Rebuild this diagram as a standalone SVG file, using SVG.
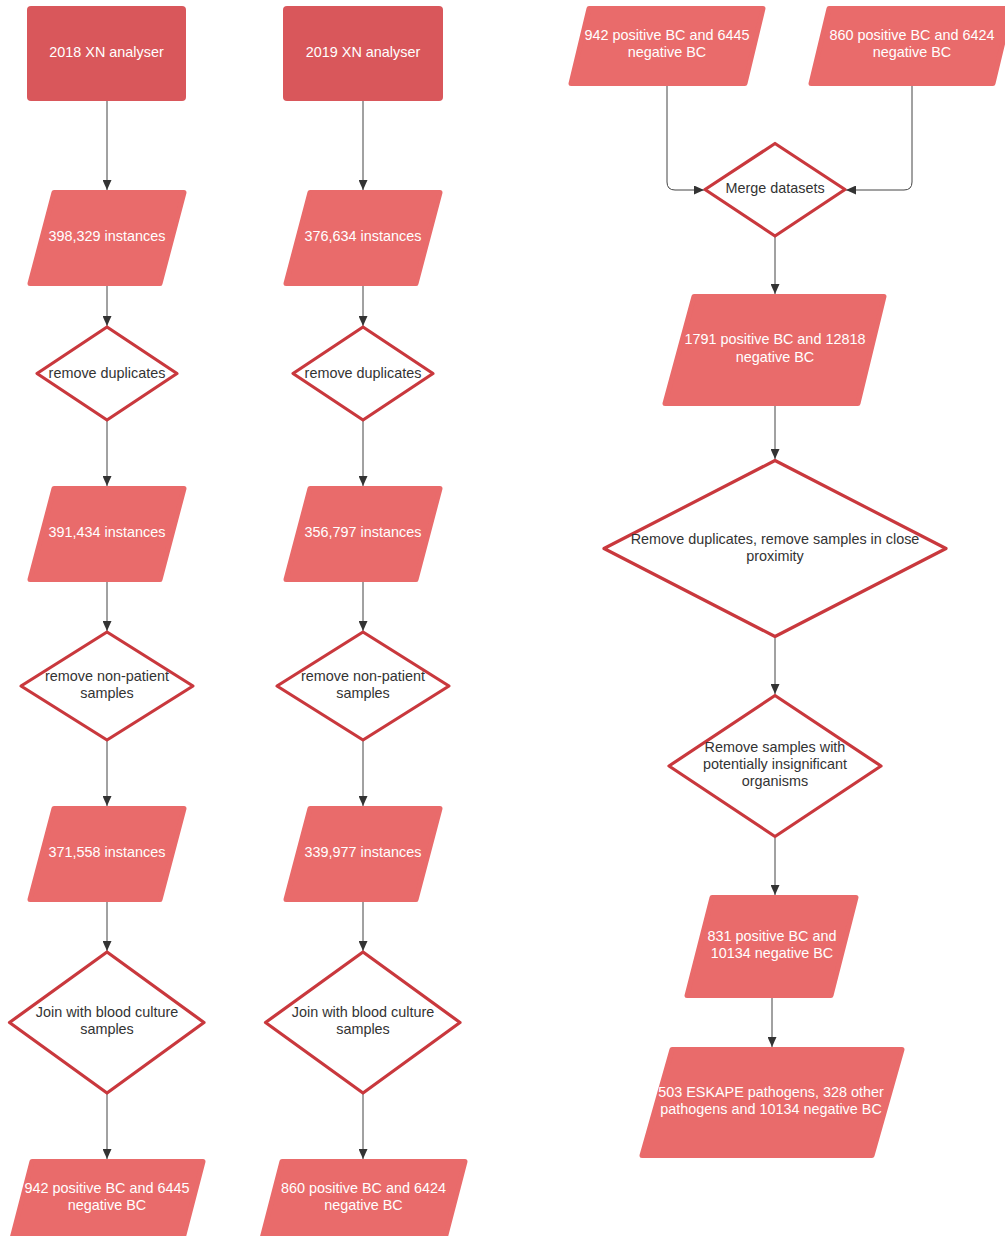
<svg xmlns="http://www.w3.org/2000/svg" width="1005" height="1236" viewBox="0 0 1005 1236">
<style>
.box{fill:#d9575b;}
.para{fill:#e96b6b;stroke:#e96b6b;stroke-width:5;stroke-linejoin:round;}
.dia{fill:#ffffff;stroke:#c9383d;stroke-width:3.2;stroke-linejoin:round;}
.lt{font-family:"Liberation Sans",Arial,sans-serif;font-size:14.4px;fill:#ffffff;text-anchor:middle;}
.dt{font-family:"Liberation Sans",Arial,sans-serif;font-size:14.4px;fill:#333333;text-anchor:middle;}
.conn{fill:none;stroke:#444444;stroke-width:1;}
</style>
<defs>
<marker id="ah" markerUnits="userSpaceOnUse" markerWidth="11" markerHeight="9" refX="10" refY="4.5" orient="auto">
<path d="M0,0 L10,4.5 L0,9 z" fill="#333333"/>
</marker>
</defs>
<rect width="1005" height="1236" fill="#ffffff"/>

<g id="connectors">
<line class="conn" x1="107" y1="101" x2="107" y2="190" marker-end="url(#ah)"/>
<line class="conn" x1="107" y1="286" x2="107" y2="326" marker-end="url(#ah)"/>
<line class="conn" x1="107" y1="421" x2="107" y2="486" marker-end="url(#ah)"/>
<line class="conn" x1="107" y1="582" x2="107" y2="631" marker-end="url(#ah)"/>
<line class="conn" x1="107" y1="741" x2="107" y2="806" marker-end="url(#ah)"/>
<line class="conn" x1="107" y1="902" x2="107" y2="951" marker-end="url(#ah)"/>
<line class="conn" x1="107" y1="1094" x2="107" y2="1159" marker-end="url(#ah)"/>

<line class="conn" x1="363" y1="101" x2="363" y2="190" marker-end="url(#ah)"/>
<line class="conn" x1="363" y1="286" x2="363" y2="326" marker-end="url(#ah)"/>
<line class="conn" x1="363" y1="421" x2="363" y2="486" marker-end="url(#ah)"/>
<line class="conn" x1="363" y1="582" x2="363" y2="631" marker-end="url(#ah)"/>
<line class="conn" x1="363" y1="741" x2="363" y2="806" marker-end="url(#ah)"/>
<line class="conn" x1="363" y1="902" x2="363" y2="951" marker-end="url(#ah)"/>
<line class="conn" x1="363" y1="1094" x2="363" y2="1159" marker-end="url(#ah)"/>

<path class="conn" d="M667,86 L667,182 Q667,190 675,190 L704,190" marker-end="url(#ah)"/>
<path class="conn" d="M912,86 L912,182 Q912,190 904,190 L846,190" marker-end="url(#ah)"/>
<line class="conn" x1="775" y1="237" x2="775" y2="294" marker-end="url(#ah)"/>
<line class="conn" x1="775" y1="406" x2="775" y2="459" marker-end="url(#ah)"/>
<line class="conn" x1="775" y1="638" x2="775" y2="694" marker-end="url(#ah)"/>
<line class="conn" x1="775" y1="838" x2="775" y2="895" marker-end="url(#ah)"/>
<line class="conn" x1="772" y1="998" x2="772" y2="1047" marker-end="url(#ah)"/>
</g>

<!-- Column 1 -->
<g id="n-2018">
<rect class="box" x="27" y="6" width="159" height="95" rx="4"/>
<text class="lt" x="106.5" y="57">2018 XN analyser</text>
</g>
<g id="n-398329">
<polygon class="para" points="54,192.5 184,192.5 160,283.5 30,283.5"/>
<text class="lt" x="107" y="241">398,329 instances</text>
</g>
<g id="n-dup1">
<polygon class="dia" points="107,327 177,373.5 107,420 37,373.5"/>
<text class="dt" x="107" y="378">remove duplicates</text>
</g>
<g id="n-391434">
<polygon class="para" points="54,488.5 184,488.5 160,579.5 30,579.5"/>
<text class="lt" x="107" y="537">391,434 instances</text>
</g>
<g id="n-np1">
<polygon class="dia" points="107,632 193,686 107,740 21,686"/>
<text class="dt" x="107" y="681">remove non-patient</text>
<text class="dt" x="107" y="698">samples</text>
</g>
<g id="n-371558">
<polygon class="para" points="54,808.5 184,808.5 160,899.5 30,899.5"/>
<text class="lt" x="107" y="857">371,558 instances</text>
</g>
<g id="n-join1">
<polygon class="dia" points="107,952 204,1022.5 107,1093 9.5,1022.5"/>
<text class="dt" x="107" y="1017">Join with blood culture</text>
<text class="dt" x="107" y="1034">samples</text>
</g>
<g id="n-942a">
<polygon class="para" points="32,1161.5 203,1161.5 179,1254 8,1254"/>
<text class="lt" x="107" y="1193">942 positive BC and 6445</text>
<text class="lt" x="107" y="1210">negative BC</text>
</g>

<!-- Column 2 -->
<g id="n-2019">
<rect class="box" x="283" y="6" width="160" height="95" rx="4"/>
<text class="lt" x="363" y="57">2019 XN analyser</text>
</g>
<g id="n-376634">
<polygon class="para" points="310,192.5 440,192.5 416,283.5 286,283.5"/>
<text class="lt" x="363" y="241">376,634 instances</text>
</g>
<g id="n-dup2">
<polygon class="dia" points="363,327 433,373.5 363,420 293,373.5"/>
<text class="dt" x="363" y="378">remove duplicates</text>
</g>
<g id="n-356797">
<polygon class="para" points="310,488.5 440,488.5 416,579.5 286,579.5"/>
<text class="lt" x="363" y="537">356,797 instances</text>
</g>
<g id="n-np2">
<polygon class="dia" points="363,632 449,686 363,740 277,686"/>
<text class="dt" x="363" y="681">remove non-patient</text>
<text class="dt" x="363" y="698">samples</text>
</g>
<g id="n-339977">
<polygon class="para" points="310,808.5 440,808.5 416,899.5 286,899.5"/>
<text class="lt" x="363" y="857">339,977 instances</text>
</g>
<g id="n-join2">
<polygon class="dia" points="363,952 460,1022.5 363,1093 265.5,1022.5"/>
<text class="dt" x="363" y="1017">Join with blood culture</text>
<text class="dt" x="363" y="1034">samples</text>
</g>
<g id="n-860a">
<polygon class="para" points="282,1161.5 465,1161.5 441,1254 258,1254"/>
<text class="lt" x="363.5" y="1193">860 positive BC and 6424</text>
<text class="lt" x="363.5" y="1210">negative BC</text>
</g>

<!-- Right column -->
<g id="n-942b">
<polygon class="para" points="589,8.5 763,8.5 745,83.5 571,83.5"/>
<text class="lt" x="667" y="40">942 positive BC and 6445</text>
<text class="lt" x="667" y="57">negative BC</text>
</g>
<g id="n-860b">
<polygon class="para" points="829,8.5 1011,8.5 993,83.5 811,83.5"/>
<text class="lt" x="912" y="40">860 positive BC and 6424</text>
<text class="lt" x="912" y="57">negative BC</text>
</g>
<g id="n-merge">
<polygon class="dia" points="775,143.5 845,189.5 775,236 705,189.5"/>
<text class="dt" x="775" y="193">Merge datasets</text>
</g>
<g id="n-1791">
<polygon class="para" points="694,296.5 884,296.5 858,403.5 665,403.5"/>
<text class="lt" x="775" y="344">1791 positive BC and 12818</text>
<text class="lt" x="775" y="362">negative BC</text>
</g>
<g id="n-dupprox">
<polygon class="dia" points="775,460.5 946,548.5 775,636.5 604,548.5"/>
<text class="dt" x="775" y="544">Remove duplicates, remove samples in close</text>
<text class="dt" x="775" y="561">proximity</text>
</g>
<g id="n-insig">
<polygon class="dia" points="775,695.5 881,766 775,836.5 669,766"/>
<text class="dt" x="775" y="752">Remove samples with</text>
<text class="dt" x="775" y="769">potentially insignificant</text>
<text class="dt" x="775" y="786">organisms</text>
</g>
<g id="n-831">
<polygon class="para" points="712,897.5 856,897.5 831,995.5 687,995.5"/>
<text class="lt" x="772" y="941">831 positive BC and</text>
<text class="lt" x="772" y="958">10134 negative BC</text>
</g>
<g id="n-503">
<polygon class="para" points="672,1049.5 902,1049.5 872,1155.5 642,1155.5"/>
<text class="lt" x="771" y="1097">503 ESKAPE pathogens, 328 other</text>
<text class="lt" x="771" y="1114">pathogens and 10134 negative BC</text>
</g>
</svg>
